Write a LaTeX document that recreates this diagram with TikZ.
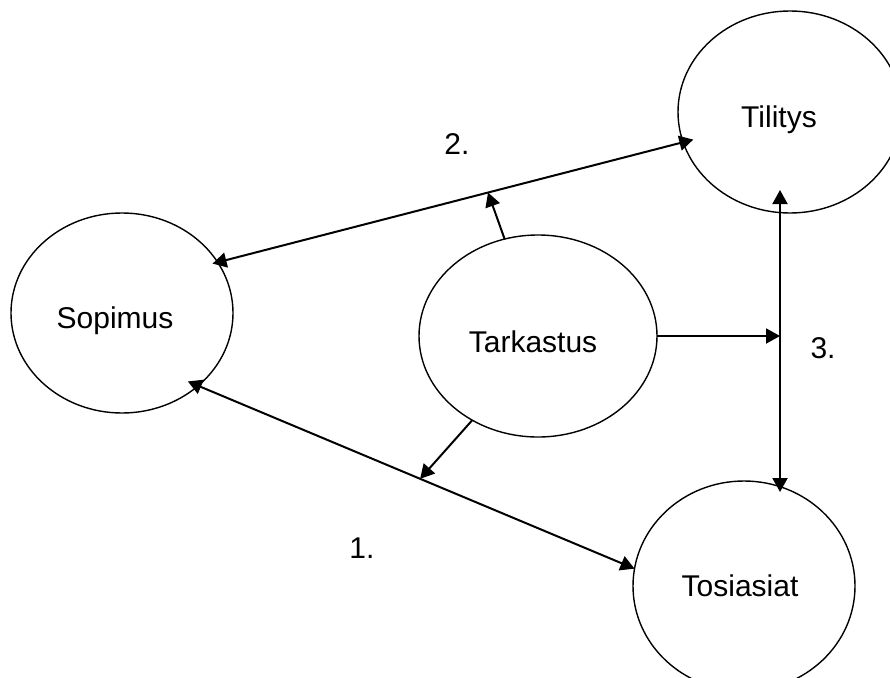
\documentclass[tikz,border=0pt]{standalone}
\usepackage{fontspec}
\setmainfont{Liberation Sans}
\usetikzlibrary{shapes.geometric,arrows.meta,calc}
\begin{document}
\begin{tikzpicture}[x=1pt,y=-1pt,
  bub/.style={draw, ellipse, line width=1.4pt, inner sep=0pt, outer sep=0pt},
  lbl/.style={font=\fontsize{30}{35}\selectfont, inner sep=0pt, anchor=base},
  con/.style={line width=2pt, line cap=butt},
  tipa/.tip={Triangle[length=14pt,width=15pt]}
]
\useasboundingbox (0,0) rectangle (890,677);
\node[bub, minimum width=222pt, minimum height=200pt] (sop) at (122,313) {};
\node[bub, minimum width=224pt, minimum height=202pt] (til) at (790,112) {};
\node[bub, minimum width=238pt, minimum height=202pt] (tar) at (538,336) {};
\node[bub, minimum width=222pt, minimum height=210pt] (tos) at (744,586) {};

\node[lbl] (sopt) at (115,328) {Sopimus};
\node[lbl] (tilt) at (779,127) {Tilitys};
\node[lbl] (tart) at (533,352) {Tarkastus};
\node[lbl] (tost) at (740,596) {Tosiasiat};

\coordinate (s2) at ([xshift=-4pt,yshift=-3pt]sop.29);
\coordinate (t2) at ([xshift=10pt,yshift=3pt]til.196);
\coordinate (s1) at ([xshift=-7pt,yshift=7pt]sop.-46);
\coordinate (t1) at (tos.171);
\coordinate (vt) at ([xshift=-10pt,yshift=23pt]til.south);
\coordinate (vb) at (vt |- 0,492);

\draw[con, tipa-tipa] (s2) -- (t2);
\draw[con, tipa-tipa] (s1) -- (t1);
\draw[con, tipa-tipa] (vt) -- (vb);

\coordinate (m2) at ($(s2)!0.573!(t2)$);
\coordinate (m1) at ($(s1)!0.52!(t1)$);
\draw[con, -tipa] (tar.109) -- (m2);
\draw[con, -tipa] (tar.-128) -- (m1);
\draw[con, -tipa] (tar.0) -- (tar.0 -| vt);

\node[lbl] (n2) at (457,154) {2.};
\node[lbl] (n3) at (823,358) {3.};
\node[lbl] (n1) at (362,558) {1.};
\end{tikzpicture}
\end{document}
